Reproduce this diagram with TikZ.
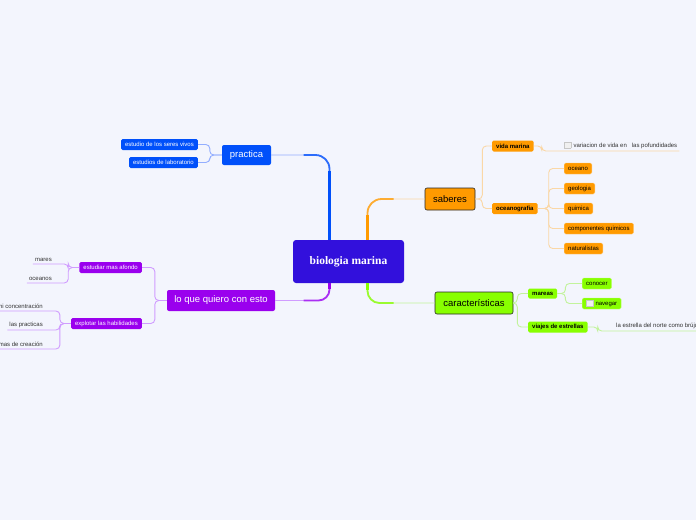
\documentclass[tikz,border=0pt]{standalone}
\usepackage{fontspec}
\setmainfont{Liberation Sans}
\newfontfamily\titlefont{Liberation Serif}
\usetikzlibrary{positioning,calc}

\definecolor{bgcol}{HTML}{F3F5FD}
\definecolor{bioblue}{HTML}{3210DC}
\definecolor{pracblue}{HTML}{0050FA}
\definecolor{praclight}{HTML}{93AEFF}
\definecolor{sabor}{HTML}{FF9A00}
\definecolor{sablight}{HTML}{FAD7A6}
\definecolor{lopurp}{HTML}{9A00EE}
\definecolor{lolight}{HTML}{D09CFF}
\definecolor{cargreen}{HTML}{88FF00}
\definecolor{carlight}{HTML}{C2F39C}

\newcommand{\ckbox}{{\setlength{\fboxsep}{0pt}\setlength{\fboxrule}{0.4pt}%
	\raisebox{-0.5pt}{\fcolorbox{gray!45}{gray!12}{\rule{0pt}{6pt}\rule{6pt}{0pt}}}}\hspace{2.5pt}}

\begin{document}
\begin{tikzpicture}[
		x=1pt,y=-1pt,
		every node/.style={
			font=\fontsize{6}{7}\selectfont,
			inner sep=0pt
		},
		topic/.style={rounded corners=2pt, text=white, minimum height=20pt,
			font=\fontsize{9.5}{11}\selectfont},
		subtopic/.style={rounded corners=1.5pt, minimum height=11pt, inner xsep=4pt},
		subbold/.style={subtopic, font=\bfseries\fontsize{6}{7}\selectfont},
		leaf/.style={text=black!80, inner xsep=2pt, inner ysep=2pt},
		link/.style={rounded corners=4pt, line width=0.9pt}
		]
		
		\useasboundingbox (0,0) rectangle (696,520);
		\fill[bgcol] (0,0) rectangle (696,520);
		
		%--------------------------------------------------
		% Nodes
		%--------------------------------------------------
		
		\node[fill=bioblue, rounded corners=3pt, minimum width=111pt, minimum height=43pt,
		text=white, font={\titlefont\bfseries\fontsize{11.5}{13}\selectfont}]
		(bio) at (348.5,261.5) {biologia marina};
		
		% practica
		\node[topic, fill=pracblue, minimum width=49pt] (prac) at (246.5,155) {practica};
		\node[subtopic, fill=pracblue, text=white, anchor=east] (seres) at (198,144.5) {estudio de los seres vivos};
		\node[subtopic, fill=pracblue, text=white, anchor=east] (labo) at (198,162.5) {estudios de laboratorio};
		
		% saberes
		\node[topic, fill=sabor, text=black, draw=black!85, line width=0.6pt,
		minimum width=50pt, minimum height=22pt] (sab) at (450,199) {saberes};
		\node[subbold, fill=sabor, anchor=west] (vida) at (492,146) {vida marina};
		\node[subbold, fill=sabor, anchor=west] (ocea) at (492,208.5) {oceanografia};
		\node[leaf, anchor=south west] (var) at (562,151) {\ckbox variacion de vida en\ \ \ las pofundidades};
		\foreach \name/\txt [count=\i] in {oce/oceano,geo/geologia,qui/quimica,comp/componentes quimicos,nat/naturalistas}
		{
			\node[subtopic, fill=sabor, draw=sabor!55!white, line width=0.4pt, anchor=west]
			(\name) at (564,148.5+20*\i) {\txt};
		}
		
		% lo que quiero con esto
		\node[topic, fill=lopurp, minimum width=108pt, minimum height=21pt] (lo) at (221,300.5) {lo que quiero con esto};
		\node[subtopic, fill=lopurp, text=white, anchor=east] (estu) at (142,267.5) {estudiar mas afondo};
		\node[subtopic, fill=lopurp, text=white, anchor=east] (expl) at (142,323.5) {explotar las habilidades};
		\node[leaf, anchor=south east] (mares) at (54,264) {mares};
		\node[leaf, anchor=south east] (oceanos) at (54,283) {oceanos};
		\node[leaf, anchor=south east] (conc) at (45,311) {mi concentración};
		\node[leaf, anchor=south east] (pract) at (45,330) {las practicas};
		\node[leaf, anchor=south east] (crea) at (45,349) {nuevas formas de creación};
		
		% caracteristicas
		\node[topic, fill=cargreen, text=black, draw=black!85, line width=0.6pt,
		minimum width=78pt, minimum height=22pt] (car) at (474,303) {características};
		\node[subbold, fill=cargreen, minimum height=10pt, anchor=west] (mar) at (528,293.5) {mareas};
		\node[subbold, fill=cargreen, anchor=west] (viaj) at (528,327) {viajes de estrellas};
		\node[subtopic, fill=cargreen, draw=cargreen!55!white, line width=0.4pt, anchor=west] (cono) at (582,283.5) {conocer};
		\node[subtopic, fill=cargreen, draw=cargreen!55!white, line width=0.4pt, anchor=west] (nave) at (582,303.5) {\ckbox navegar};
		\node[leaf, anchor=south west] (estr) at (614,331) {la estrella del norte como brújula};
		
		%--------------------------------------------------
		% Main branches
		%--------------------------------------------------
		
		\draw[line width=0.9pt, praclight, rounded corners=14pt] ($(bio.north)+(-19,0)$) |- (prac.east);
		\draw[line width=1.8pt, pracblue!70!praclight, rounded corners=14pt] ($(bio.north)+(-19,0)$) |- ($(bio.north |- prac.east)+(-45,0)$);
		\draw[line width=3pt, pracblue] ($(bio.north)+(-19,0)$) -- ($(bio.north |- prac.east)+(-19,16)$);
		
		\draw[line width=0.9pt, sablight, rounded corners=14pt] ($(bio.north)+(19,0)$) |- (sab.west);
		\draw[line width=1.8pt, sabor!70!sablight, rounded corners=14pt] ($(bio.north)+(19,0)$) |- ($(bio.north |- sab.west)+(45,0)$);
		\draw[line width=3pt, sabor] ($(bio.north)+(19,0)$) -- ($(bio.north |- sab.west)+(19,16)$);
		
		\draw[line width=0.9pt, lolight, rounded corners=11pt] ($(bio.south)+(-19,0)$) |- (lo.east);
		\draw[line width=1.8pt, lopurp!70!lolight, rounded corners=11pt] ($(bio.south)+(-19,0)$) |- ($(bio.south |- lo.east)+(-45,0)$);
		\draw[line width=3pt, lopurp] ($(bio.south)+(-19,0)$) -- ($(bio.south |- lo.east)+(-19,-12)$);
		
		\draw[line width=0.9pt, carlight, rounded corners=12pt] ($(bio.south)+(19,0)$) |- (car.west);
		\draw[line width=1.8pt, cargreen!70!carlight, rounded corners=12pt] ($(bio.south)+(19,0)$) |- ($(bio.south |- car.west)+(45,0)$);
		\draw[line width=3pt, cargreen] ($(bio.south)+(19,0)$) -- ($(bio.south |- car.west)+(19,-13)$);
		
		%--------------------------------------------------
		% Sub branches
		%--------------------------------------------------
		
		\foreach \x in {seres,labo}
		{
			\draw[link, praclight] (prac.west) -- ++(-12,0) |- (\x.east);
		}
		
		\foreach \x in {vida,ocea}
		{
			\draw[link, sablight] (sab.east) -- ++(7,0) |- (\x.west);
		}
		\draw[link, sablight] (vida.east) -- ++(8,0) |- (var.south east);
		\foreach \x in {oce,geo,qui,comp,nat}
		{
			\draw[link, sablight] (ocea.east) -- ++(11,0) |- (\x.west);
		}
		
		\foreach \x in {estu,expl}
		{
			\draw[link, lolight] (lo.west) -- ++(-12,0) |- (\x.east);
		}
		\foreach \x in {mares,oceanos}
		{
			\draw[link, lolight] (estu.west) -- ++(-11,0) |- (\x.south east) -- (\x.south west);
		}
		\foreach \x in {conc,pract,crea}
		{
			\draw[link, lolight] (expl.west) -- ++(-11,0) |- (\x.south east) -- (\x.south west);
		}
		
		\foreach \x in {mar,viaj}
		{
			\draw[link, carlight] (car.east) -- ++(4,0) |- (\x.west);
		}
		\foreach \x in {cono,nave}
		{
			\draw[link, carlight] (mar.east) -- ++(8,0) |- (\x.west);
		}
		\draw[link, carlight] (viaj.east) -- ++(10,0) |- (estr.south east);
		
	\end{tikzpicture}
\end{document}
